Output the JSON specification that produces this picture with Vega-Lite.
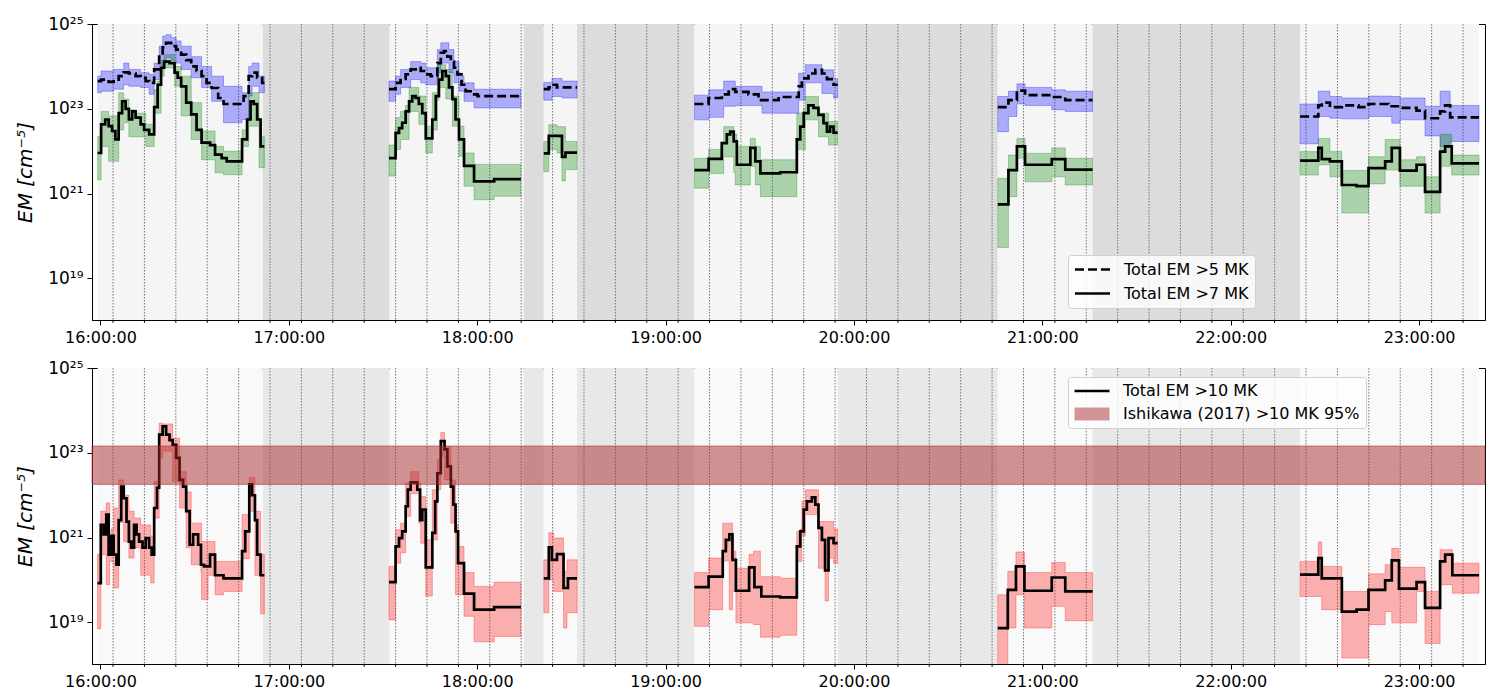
{
  "$schema": "https://vega.github.io/schema/vega-lite/v6.json",
  "background": "white",
  "autosize": {"type": "pad"},
  "padding": {"left": 15, "top": 14, "right": 5, "bottom": 5},
  "spacing": 12,
  "config": {
    "font": "DejaVu Sans",
    "view": {"stroke": "black", "strokeWidth": 1},
    "axis": {"domainColor": "black", "tickColor": "black", "labelColor": "black", "titleColor": "black", "labelFontSize": 16, "grid": false, "tickWidth": 1, "labelPadding": 4},
    "legend": {"labelLimit": 400}
  },
  "resolve": {"scale": {"fill": "independent", "strokeDash": "independent", "color": "independent", "shape": "independent"}},
  "datasets": {
    "shade": [
      {"start": 959.1, "end": 1011.7, "kind": "obs"},
      {"start": 1011.7, "end": 1052.1, "kind": "gap"},
      {"start": 1052.1, "end": 1094.8, "kind": "obs"},
      {"start": 1094.8, "end": 1101.2, "kind": "gap"},
      {"start": 1101.2, "end": 1111.8, "kind": "obs"},
      {"start": 1111.8, "end": 1149.2, "kind": "gap"},
      {"start": 1149.2, "end": 1194.8, "kind": "obs"},
      {"start": 1194.8, "end": 1245.8, "kind": "gap"},
      {"start": 1245.8, "end": 1276.0, "kind": "obs"},
      {"start": 1276.0, "end": 1342.1, "kind": "gap"},
      {"start": 1342.1, "end": 1399.1, "kind": "obs"}
    ],
    "grid": [
      {"t": 964}, {"t": 974}, {"t": 984}, {"t": 994}, {"t": 1004}, {"t": 1014}, {"t": 1024}, {"t": 1034}, {"t": 1044}, {"t": 1054}, {"t": 1064},
      {"t": 1074}, {"t": 1084}, {"t": 1094}, {"t": 1104}, {"t": 1114}, {"t": 1124}, {"t": 1134}, {"t": 1144}, {"t": 1154}, {"t": 1164}, {"t": 1174},
      {"t": 1184}, {"t": 1194}, {"t": 1204}, {"t": 1214}, {"t": 1224}, {"t": 1234}, {"t": 1244}, {"t": 1254}, {"t": 1264}, {"t": 1274}, {"t": 1284},
      {"t": 1294}, {"t": 1304}, {"t": 1314}, {"t": 1324}, {"t": 1334}, {"t": 1344}, {"t": 1354}, {"t": 1364}, {"t": 1374}, {"t": 1384}, {"t": 1394}
    ],
    "ishikawa": [{"lo": 1.8e22, "hi": 1.45e23}],
    "legend10": [{"s": "Total EM >10 MK"}, {"s": "Ishikawa (2017) >10 MK 95%"}],
    "top": [
      {"seg":1,"t":959.1,"em5":4.5e23,"lo5":2.4e23,"hi5":5.9e23,"em7":9.1e21,"lo7":2.1e21,"hi7":2.2e22},
      {"seg":1,"t":960.2,"em5":4.9e23,"lo5":2.6e23,"hi5":7.8e23,"em7":4.3e22,"lo7":1.3e22,"hi7":8.7e22},
      {"seg":1,"t":961.5,"em5":4.9e23,"lo5":2.6e23,"hi5":7.8e23,"em7":5.6e22,"lo7":1.3e22,"hi7":8.7e22},
      {"seg":1,"t":962.6,"em5":4.3e23,"lo5":2.6e23,"hi5":7.8e23,"em7":3.9e22,"lo7":5.8e21,"hi7":6.8e22},
      {"seg":1,"t":963.7,"em5":4.3e23,"lo5":2.6e23,"hi5":7.8e23,"em7":3.0e22,"lo7":5.8e21,"hi7":6.8e22},
      {"seg":1,"t":964.2,"em5":4.9e23,"lo5":2.9e23,"hi5":8.5e23,"em7":3.0e22,"lo7":5.8e21,"hi7":6.8e22},
      {"seg":1,"t":964.75,"em5":4.9e23,"lo5":2.9e23,"hi5":8.5e23,"em7":1.9e22,"lo7":5.8e21,"hi7":6.8e22},
      {"seg":1,"t":965.8,"em5":5.9e23,"lo5":2.9e23,"hi5":8.5e23,"em7":7.9e22,"lo7":3.2e22,"hi7":2.4e23},
      {"seg":1,"t":966.9,"em5":5.9e23,"lo5":2.9e23,"hi5":8.5e23,"em7":1.5e23,"lo7":3.2e22,"hi7":2.4e23},
      {"seg":1,"t":967.4,"em5":7.2e23,"lo5":3.7e23,"hi5":1.2e24,"em7":1.5e23,"lo7":4.7e22,"hi7":1.7e23},
      {"seg":1,"t":968.0,"em5":7.2e23,"lo5":3.7e23,"hi5":1.2e24,"em7":1.0e23,"lo7":4.7e22,"hi7":1.7e23},
      {"seg":1,"t":969.05,"em5":6.8e23,"lo5":3.4e23,"hi5":8.5e23,"em7":5.6e22,"lo7":2.2e22,"hi7":9.5e22},
      {"seg":1,"t":970.1,"em5":6.8e23,"lo5":3.4e23,"hi5":8.5e23,"em7":8.7e22,"lo7":2.2e22,"hi7":9.5e22},
      {"seg":1,"t":971.2,"em5":5.9e23,"lo5":3.4e23,"hi5":8.5e23,"em7":6.2e22,"lo7":2.2e22,"hi7":7.9e22},
      {"seg":1,"t":972.8,"em5":5.4e23,"lo5":3.2e23,"hi5":7.1e23,"em7":4.3e22,"lo7":2.2e22,"hi7":7.9e22},
      {"seg":1,"t":973.9,"em5":5.4e23,"lo5":3.2e23,"hi5":7.1e23,"em7":3.2e22,"lo7":2.2e22,"hi7":7.9e22},
      {"seg":1,"t":974.4,"em5":4.5e23,"lo5":3.2e23,"hi5":7.1e23,"em7":3.2e22,"lo7":1.3e22,"hi7":4.3e22},
      {"seg":1,"t":975.5,"em5":4.1e23,"lo5":2.2e23,"hi5":6.5e23,"em7":2.5e22,"lo7":1.3e22,"hi7":4.3e22},
      {"seg":1,"t":977.1,"em5":8.5e23,"lo5":4.9e23,"hi5":1.2e24,"em7":1.1e23,"lo7":7.9e22,"hi7":2.8e23},
      {"seg":1,"t":978.2,"em5":8.5e23,"lo5":4.9e23,"hi5":1.2e24,"em7":3.7e23,"lo7":7.9e22,"hi7":4.5e23},
      {"seg":1,"t":978.7,"em5":1.7e24,"lo5":8.5e23,"hi5":3.0e24,"em7":3.7e23,"lo7":7.9e22,"hi7":4.5e23},
      {"seg":1,"t":979.3,"em5":1.7e24,"lo5":8.5e23,"hi5":3.0e24,"em7":9.3e23,"lo7":5.9e23,"hi7":1.4e24},
      {"seg":1,"t":979.8,"em5":2.8e24,"lo5":1.2e24,"hi5":5.2e24,"em7":9.3e23,"lo7":5.9e23,"hi7":1.4e24},
      {"seg":1,"t":980.3,"em5":2.8e24,"lo5":1.2e24,"hi5":5.2e24,"em7":1.3e24,"lo7":9.3e23,"hi7":1.9e24},
      {"seg":1,"t":980.9,"em5":3.6e24,"lo5":1.6e24,"hi5":5.6e24,"em7":1.3e24,"lo7":9.3e23,"hi7":1.9e24},
      {"seg":1,"t":982.0,"em5":3.6e24,"lo5":1.6e24,"hi5":5.6e24,"em7":1.2e24,"lo7":9.3e23,"hi7":1.9e24},
      {"seg":1,"t":982.5,"em5":3.0e24,"lo5":1.4e24,"hi5":4.8e24,"em7":1.2e24,"lo7":9.3e23,"hi7":1.9e24},
      {"seg":1,"t":983.6,"em5":3.0e24,"lo5":1.4e24,"hi5":4.8e24,"em7":7.1e23,"lo7":3.4e23,"hi7":1.0e24},
      {"seg":1,"t":984.1,"em5":2.5e24,"lo5":1.2e24,"hi5":4.0e24,"em7":7.1e23,"lo7":3.4e23,"hi7":1.0e24},
      {"seg":1,"t":984.6,"em5":2.5e24,"lo5":1.2e24,"hi5":4.0e24,"em7":5.4e23,"lo7":3.4e23,"hi7":1.0e24},
      {"seg":1,"t":985.7,"em5":1.9e24,"lo5":8.5e23,"hi5":3.0e24,"em7":3.4e23,"lo7":6.8e22,"hi7":5.9e23},
      {"seg":1,"t":987.3,"em5":1.4e24,"lo5":8.5e23,"hi5":3.0e24,"em7":1.4e23,"lo7":6.8e22,"hi7":5.9e23},
      {"seg":1,"t":988.9,"em5":1.0e24,"lo5":5.4e23,"hi5":1.7e24,"em7":7.4e22,"lo7":1.9e22,"hi7":1.4e23},
      {"seg":1,"t":990.6,"em5":7.8e23,"lo5":5.4e23,"hi5":1.7e24,"em7":3.2e22,"lo7":1.9e22,"hi7":1.4e23},
      {"seg":1,"t":992.2,"em5":5.9e23,"lo5":3.2e23,"hi5":1.0e24,"em7":1.6e22,"lo7":6.3e21,"hi7":3.0e22},
      {"seg":1,"t":993.8,"em5":4.1e23,"lo5":3.2e23,"hi5":1.0e24,"em7":1.6e22,"lo7":6.3e21,"hi7":3.0e22},
      {"seg":1,"t":994.9,"em5":4.1e23,"lo5":3.2e23,"hi5":1.0e24,"em7":1.4e22,"lo7":6.3e21,"hi7":3.0e22},
      {"seg":1,"t":995.4,"em5":3.1e23,"lo5":1.5e23,"hi5":5.9e23,"em7":1.4e22,"lo7":6.3e21,"hi7":3.0e22},
      {"seg":1,"t":996.5,"em5":3.1e23,"lo5":1.5e23,"hi5":5.9e23,"em7":8.3e21,"lo7":3.1e21,"hi7":1.3e22},
      {"seg":1,"t":997.5,"em5":1.8e23,"lo5":1.5e23,"hi5":5.9e23,"em7":8.3e21,"lo7":3.1e21,"hi7":1.3e22},
      {"seg":1,"t":998.6,"em5":1.8e23,"lo5":1.5e23,"hi5":5.9e23,"em7":6.9e21,"lo7":3.1e21,"hi7":1.3e22},
      {"seg":1,"t":999.2,"em5":1.3e23,"lo5":4.7e22,"hi5":3.4e23,"em7":6.9e21,"lo7":2.8e21,"hi7":1.0e22},
      {"seg":1,"t":1000.2,"em5":1.3e23,"lo5":4.7e22,"hi5":3.4e23,"em7":5.8e21,"lo7":2.8e21,"hi7":1.0e22},
      {"seg":1,"t":1005.1,"em5":1.3e23,"lo5":5.6e22,"hi5":2.4e23,"em7":1.9e22,"lo7":1.3e22,"hi7":3.2e22},
      {"seg":1,"t":1005.6,"em5":2.0e23,"lo5":5.6e22,"hi5":2.4e23,"em7":1.9e22,"lo7":1.3e22,"hi7":3.2e22},
      {"seg":1,"t":1006.7,"em5":2.0e23,"lo5":5.6e22,"hi5":2.4e23,"em7":5.6e22,"lo7":1.3e22,"hi7":6.0e22},
      {"seg":1,"t":1007.2,"em5":5.9e23,"lo5":2.0e23,"hi5":1.0e24,"em7":5.6e22,"lo7":3.9e22,"hi7":2.4e23},
      {"seg":1,"t":1007.8,"em5":5.9e23,"lo5":2.0e23,"hi5":1.0e24,"em7":1.5e23,"lo7":3.9e22,"hi7":2.4e23},
      {"seg":1,"t":1008.3,"em5":7.1e23,"lo5":3.4e23,"hi5":1.2e24,"em7":1.5e23,"lo7":3.9e22,"hi7":2.4e23},
      {"seg":1,"t":1008.8,"em5":7.1e23,"lo5":3.4e23,"hi5":1.2e24,"em7":1.3e23,"lo7":3.9e22,"hi7":2.4e23},
      {"seg":1,"t":1009.9,"em5":5.4e23,"lo5":3.4e23,"hi5":1.2e24,"em7":5.6e22,"lo7":3.9e22,"hi7":2.4e23},
      {"seg":1,"t":1010.5,"em5":5.4e23,"lo5":2.4e23,"hi5":5.9e23,"em7":5.6e22,"lo7":4.1e21,"hi7":6.0e22},
      {"seg":1,"t":1011.0,"em5":5.4e23,"lo5":2.4e23,"hi5":5.9e23,"em7":1.3e22,"lo7":4.1e21,"hi7":2.2e22},
      {"seg":1,"t":1011.5,"em5":4.1e23,"lo5":2.4e23,"hi5":5.9e23,"em7":1.3e22,"lo7":4.1e21,"hi7":2.2e22},
      {"seg":1,"t":1012.2,"em5":4.1e23,"lo5":2.4e23,"hi5":5.9e23,"em7":1.3e22,"lo7":4.1e21,"hi7":2.2e22},
      {"seg":2,"t":1051.9,"em5":2.9e23,"lo5":1.5e23,"hi5":4.5e23,"em7":6.9e21,"lo7":2.6e21,"hi7":1.4e22},
      {"seg":2,"t":1054.0,"em5":4.1e23,"lo5":2.2e23,"hi5":5.9e23,"em7":2.7e22,"lo7":1.1e22,"hi7":6.2e22},
      {"seg":2,"t":1055.1,"em5":4.1e23,"lo5":2.2e23,"hi5":5.9e23,"em7":3.5e22,"lo7":1.1e22,"hi7":6.2e22},
      {"seg":2,"t":1055.6,"em5":5.1e23,"lo5":3.2e23,"hi5":8.5e23,"em7":3.5e22,"lo7":1.9e22,"hi7":8.7e22},
      {"seg":2,"t":1056.1,"em5":5.1e23,"lo5":3.2e23,"hi5":8.5e23,"em7":4.7e22,"lo7":1.9e22,"hi7":8.7e22},
      {"seg":2,"t":1057.2,"em5":6.5e23,"lo5":3.2e23,"hi5":8.5e23,"em7":8.7e22,"lo7":1.9e22,"hi7":1.2e23},
      {"seg":2,"t":1058.3,"em5":6.5e23,"lo5":3.2e23,"hi5":8.5e23,"em7":1.5e23,"lo7":8.7e22,"hi7":3.2e23},
      {"seg":2,"t":1058.8,"em5":8.5e23,"lo5":4.9e23,"hi5":1.3e24,"em7":1.5e23,"lo7":8.7e22,"hi7":3.2e23},
      {"seg":2,"t":1059.3,"em5":8.5e23,"lo5":4.9e23,"hi5":1.3e24,"em7":2.0e23,"lo7":8.7e22,"hi7":3.2e23},
      {"seg":2,"t":1060.4,"em5":9.3e23,"lo5":4.9e23,"hi5":1.3e24,"em7":1.8e23,"lo7":8.7e22,"hi7":3.2e23},
      {"seg":2,"t":1061.4,"em5":9.3e23,"lo5":4.9e23,"hi5":1.3e24,"em7":1.3e23,"lo7":4.3e22,"hi7":2.0e23},
      {"seg":2,"t":1062.0,"em5":7.8e23,"lo5":4.1e23,"hi5":1.2e24,"em7":1.3e23,"lo7":4.3e22,"hi7":2.0e23},
      {"seg":2,"t":1062.5,"em5":7.8e23,"lo5":4.1e23,"hi5":1.2e24,"em7":7.9e22,"lo7":4.3e22,"hi7":2.0e23},
      {"seg":2,"t":1063.6,"em5":6.5e23,"lo5":3.7e23,"hi5":9.3e23,"em7":2.0e22,"lo7":9.1e21,"hi7":3.9e22},
      {"seg":2,"t":1065.2,"em5":5.9e23,"lo5":3.7e23,"hi5":9.3e23,"em7":2.0e22,"lo7":9.1e21,"hi7":3.9e22},
      {"seg":2,"t":1065.7,"em5":5.9e23,"lo5":3.7e23,"hi5":9.3e23,"em7":5.6e22,"lo7":3.2e22,"hi7":2.4e23},
      {"seg":2,"t":1066.8,"em5":5.9e23,"lo5":3.7e23,"hi5":9.3e23,"em7":2.0e23,"lo7":3.2e22,"hi7":2.4e23},
      {"seg":2,"t":1067.3,"em5":1.2e24,"lo5":7.1e23,"hi5":2.5e24,"em7":2.0e23,"lo7":1.6e23,"hi7":1.1e24},
      {"seg":2,"t":1067.8,"em5":1.2e24,"lo5":7.1e23,"hi5":2.5e24,"em7":4.9e23,"lo7":3.2e23,"hi7":1.1e24},
      {"seg":2,"t":1068.4,"em5":2.1e24,"lo5":1.2e24,"hi5":3.6e24,"em7":4.9e23,"lo7":3.2e23,"hi7":1.1e24},
      {"seg":2,"t":1068.9,"em5":2.1e24,"lo5":1.2e24,"hi5":3.6e24,"em7":7.8e23,"lo7":3.2e23,"hi7":1.1e24},
      {"seg":2,"t":1069.4,"em5":2.3e24,"lo5":1.2e24,"hi5":3.6e24,"em7":7.8e23,"lo7":3.2e23,"hi7":1.1e24},
      {"seg":2,"t":1070.0,"em5":2.3e24,"lo5":1.2e24,"hi5":3.6e24,"em7":5.9e23,"lo7":1.7e23,"hi7":8.5e23},
      {"seg":2,"t":1070.5,"em5":1.7e24,"lo5":1.2e24,"hi5":3.6e24,"em7":5.9e23,"lo7":1.7e23,"hi7":8.5e23},
      {"seg":2,"t":1071.0,"em5":1.7e24,"lo5":7.1e23,"hi5":2.5e24,"em7":3.2e23,"lo7":1.7e23,"hi7":8.5e23},
      {"seg":2,"t":1071.6,"em5":1.3e24,"lo5":7.1e23,"hi5":2.5e24,"em7":3.2e23,"lo7":1.7e23,"hi7":8.5e23},
      {"seg":2,"t":1072.1,"em5":1.3e24,"lo5":7.1e23,"hi5":2.5e24,"em7":1.7e23,"lo7":3.9e22,"hi7":2.0e23},
      {"seg":2,"t":1072.6,"em5":9.3e23,"lo5":4.1e23,"hi5":1.3e24,"em7":1.7e23,"lo7":3.9e22,"hi7":2.0e23},
      {"seg":2,"t":1073.1,"em5":9.3e23,"lo5":4.1e23,"hi5":1.3e24,"em7":5.6e22,"lo7":3.9e22,"hi7":2.0e23},
      {"seg":2,"t":1073.7,"em5":6.5e23,"lo5":4.1e23,"hi5":1.3e24,"em7":5.6e22,"lo7":3.9e22,"hi7":2.0e23},
      {"seg":2,"t":1074.2,"em5":6.5e23,"lo5":2.6e23,"hi5":7.0e23,"em7":1.9e22,"lo7":7.6e21,"hi7":3.9e22},
      {"seg":2,"t":1075.0,"em5":3.7e23,"lo5":2.6e23,"hi5":5.9e23,"em7":1.9e22,"lo7":7.6e21,"hi7":3.9e22},
      {"seg":2,"t":1075.8,"em5":3.7e23,"lo5":1.5e23,"hi5":4.1e23,"em7":4.5e21,"lo7":1.5e21,"hi7":9.1e21},
      {"seg":2,"t":1076.3,"em5":2.6e23,"lo5":1.5e23,"hi5":4.1e23,"em7":4.5e21,"lo7":1.5e21,"hi7":9.1e21},
      {"seg":2,"t":1078.5,"em5":2.2e23,"lo5":1.5e23,"hi5":4.1e23,"em7":4.5e21,"lo7":1.5e21,"hi7":9.1e21},
      {"seg":2,"t":1079.0,"em5":2.2e23,"lo5":1.05e23,"hi5":2.9e23,"em7":1.95e21,"lo7":7.2e20,"hi7":4.9e21},
      {"seg":2,"t":1080.1,"em5":2.0e23,"lo5":1.05e23,"hi5":2.9e23,"em7":1.95e21,"lo7":7.2e20,"hi7":4.9e21},
      {"seg":2,"t":1085.4,"em5":2.0e23,"lo5":1.05e23,"hi5":2.9e23,"em7":2.2e21,"lo7":8.7e20,"hi7":4.9e21},
      {"seg":2,"t":1093.9,"em5":2.0e23,"lo5":1.05e23,"hi5":2.9e23,"em7":2.2e21,"lo7":8.7e20,"hi7":4.9e21},
      {"seg":3,"t":1101.2,"em5":2.9e23,"lo5":1.6e23,"hi5":4.2e23,"em7":8.9e21,"lo7":3.3e21,"hi7":1.7e22},
      {"seg":3,"t":1102.8,"em5":3.2e23,"lo5":1.6e23,"hi5":4.2e23,"em7":2.3e22,"lo7":1.1e22,"hi7":4.2e22},
      {"seg":3,"t":1103.8,"em5":3.7e23,"lo5":1.95e23,"hi5":5.2e23,"em7":2.3e22,"lo7":1.1e22,"hi7":4.2e22},
      {"seg":3,"t":1105.4,"em5":3.2e23,"lo5":1.95e23,"hi5":5.2e23,"em7":2.3e22,"lo7":9.1e21,"hi7":3.8e22},
      {"seg":3,"t":1107.0,"em5":3.2e23,"lo5":1.8e23,"hi5":4.5e23,"em7":7.4e21,"lo7":2.0e21,"hi7":3.8e22},
      {"seg":3,"t":1108.1,"em5":3.2e23,"lo5":1.8e23,"hi5":4.5e23,"em7":9.3e21,"lo7":3.7e21,"hi7":1.7e22},
      {"seg":3,"t":1111.8,"em5":3.2e23,"lo5":1.8e23,"hi5":4.5e23,"em7":9.3e21,"lo7":3.7e21,"hi7":1.7e22},
      {"seg":4,"t":1149.2,"em5":1.3e23,"lo5":5.5e22,"hi5":2.1e23,"em7":3.6e21,"lo7":1.35e21,"hi7":6.8e21},
      {"seg":4,"t":1153.7,"em5":1.8e23,"lo5":6.3e22,"hi5":2.8e23,"em7":6.6e21,"lo7":3.0e21,"hi7":1.1e22},
      {"seg":4,"t":1157.9,"em5":2.2e23,"lo5":6.3e22,"hi5":2.8e23,"em7":1.55e22,"lo7":3.0e21,"hi7":1.6e22},
      {"seg":4,"t":1158.5,"em5":2.2e23,"lo5":1.15e23,"hi5":4.5e23,"em7":1.55e22,"lo7":7.4e21,"hi7":3.8e22},
      {"seg":4,"t":1159.5,"em5":2.2e23,"lo5":1.15e23,"hi5":4.5e23,"em7":2.5e22,"lo7":7.4e21,"hi7":3.8e22},
      {"seg":4,"t":1160.1,"em5":2.9e23,"lo5":1.15e23,"hi5":4.5e23,"em7":2.5e22,"lo7":7.4e21,"hi7":3.8e22},
      {"seg":4,"t":1160.6,"em5":2.9e23,"lo5":1.15e23,"hi5":4.5e23,"em7":2.9e22,"lo7":7.4e21,"hi7":3.8e22},
      {"seg":4,"t":1161.7,"em5":2.9e23,"lo5":1.15e23,"hi5":4.5e23,"em7":1.7e22,"lo7":3.2e21,"hi7":2.5e22},
      {"seg":4,"t":1162.2,"em5":2.5e23,"lo5":1.2e23,"hi5":3.4e23,"em7":1.7e22,"lo7":1.6e21,"hi7":2.5e22},
      {"seg":4,"t":1162.7,"em5":2.5e23,"lo5":1.2e23,"hi5":3.4e23,"em7":4.8e21,"lo7":1.6e21,"hi7":1.3e22},
      {"seg":4,"t":1166.4,"em5":2.2e23,"lo5":1.2e23,"hi5":3.4e23,"em7":4.8e21,"lo7":1.6e21,"hi7":1.3e22},
      {"seg":4,"t":1167.0,"em5":2.2e23,"lo5":1.2e23,"hi5":3.4e23,"em7":1.2e22,"lo7":4.4e21,"hi7":2.0e22},
      {"seg":4,"t":1168.6,"em5":2.2e23,"lo5":1.2e23,"hi5":3.4e23,"em7":5.8e21,"lo7":1.6e21,"hi7":1.3e22},
      {"seg":4,"t":1169.6,"em5":1.6e23,"lo5":1.2e23,"hi5":3.4e23,"em7":5.8e21,"lo7":1.6e21,"hi7":1.3e22},
      {"seg":4,"t":1170.2,"em5":1.6e23,"lo5":1.2e23,"hi5":3.4e23,"em7":3.0e21,"lo7":8.5e20,"hi7":6.3e21},
      {"seg":4,"t":1170.7,"em5":1.6e23,"lo5":7.9e22,"hi5":2.5e23,"em7":3.0e21,"lo7":8.5e20,"hi7":6.3e21},
      {"seg":4,"t":1176.0,"em5":1.9e23,"lo5":7.9e22,"hi5":2.5e23,"em7":3.0e21,"lo7":8.5e20,"hi7":6.3e21},
      {"seg":4,"t":1176.5,"em5":1.9e23,"lo5":7.9e22,"hi5":2.5e23,"em7":3.2e21,"lo7":8.5e20,"hi7":6.3e21},
      {"seg":4,"t":1181.8,"em5":1.9e23,"lo5":7.9e22,"hi5":2.5e23,"em7":1.9e22,"lo7":1.1e22,"hi7":7.9e22},
      {"seg":4,"t":1182.4,"em5":3.4e23,"lo5":1.6e23,"hi5":6.9e23,"em7":1.9e22,"lo7":1.1e22,"hi7":7.9e22},
      {"seg":4,"t":1182.9,"em5":3.4e23,"lo5":1.6e23,"hi5":6.9e23,"em7":3.8e22,"lo7":1.1e22,"hi7":7.9e22},
      {"seg":4,"t":1183.4,"em5":5.2e23,"lo5":1.6e23,"hi5":6.9e23,"em7":3.8e22,"lo7":1.1e22,"hi7":7.9e22},
      {"seg":4,"t":1184.0,"em5":5.2e23,"lo5":1.6e23,"hi5":6.9e23,"em7":7.9e22,"lo7":1.1e22,"hi7":1.0e23},
      {"seg":4,"t":1184.5,"em5":5.2e23,"lo5":4.1e23,"hi5":1.1e24,"em7":7.9e22,"lo7":5.5e22,"hi7":1.95e23},
      {"seg":4,"t":1185.5,"em5":6.8e23,"lo5":4.1e23,"hi5":1.1e24,"em7":1.2e23,"lo7":5.5e22,"hi7":1.95e23},
      {"seg":4,"t":1187.1,"em5":6.8e23,"lo5":4.1e23,"hi5":1.1e24,"em7":1.05e23,"lo7":5.5e22,"hi7":1.95e23},
      {"seg":4,"t":1187.7,"em5":8.3e23,"lo5":4.1e23,"hi5":1.1e24,"em7":1.05e23,"lo7":5.5e22,"hi7":1.95e23},
      {"seg":4,"t":1188.7,"em5":8.3e23,"lo5":4.1e23,"hi5":1.1e24,"em7":7.2e22,"lo7":2.2e22,"hi7":7.9e22},
      {"seg":4,"t":1189.8,"em5":6.8e23,"lo5":2.3e23,"hi5":8.3e23,"em7":7.2e22,"lo7":2.2e22,"hi7":7.9e22},
      {"seg":4,"t":1190.3,"em5":6.8e23,"lo5":2.3e23,"hi5":8.3e23,"em7":4.6e22,"lo7":2.2e22,"hi7":7.9e22},
      {"seg":4,"t":1191.4,"em5":5.0e23,"lo5":2.3e23,"hi5":8.3e23,"em7":2.9e22,"lo7":2.2e22,"hi7":7.9e22},
      {"seg":4,"t":1191.9,"em5":5.0e23,"lo5":2.3e23,"hi5":8.3e23,"em7":2.9e22,"lo7":1.4e22,"hi7":5.0e22},
      {"seg":4,"t":1192.4,"em5":5.0e23,"lo5":2.3e23,"hi5":8.3e23,"em7":3.8e22,"lo7":1.4e22,"hi7":5.0e22},
      {"seg":4,"t":1193.5,"em5":3.7e23,"lo5":1.8e23,"hi5":5.2e23,"em7":2.75e22,"lo7":1.4e22,"hi7":5.0e22},
      {"seg":4,"t":1194.8,"em5":3.7e23,"lo5":1.8e23,"hi5":5.2e23,"em7":2.75e22,"lo7":1.4e22,"hi7":5.0e22},
      {"seg":5,"t":1245.8,"em5":1.1e23,"lo5":2.9e22,"hi5":1.95e23,"em7":5.6e20,"lo7":5.4e19,"hi7":2.3e21},
      {"seg":5,"t":1249.2,"em5":1.6e23,"lo5":6.6e22,"hi5":2.6e23,"em7":3.6e21,"lo7":8.5e20,"hi7":8.1e21},
      {"seg":5,"t":1251.9,"em5":2.7e23,"lo5":1.3e23,"hi5":3.9e23,"em7":1.3e22,"lo7":6.8e21,"hi7":2.0e22},
      {"seg":5,"t":1254.5,"em5":2.1e23,"lo5":1.2e23,"hi5":3.2e23,"em7":4.8e21,"lo7":1.9e21,"hi7":8.9e21},
      {"seg":5,"t":1263.0,"em5":1.9e23,"lo5":9.5e22,"hi5":2.8e23,"em7":6.5e21,"lo7":2.5e21,"hi7":1.2e22},
      {"seg":5,"t":1267.3,"em5":1.6e23,"lo5":8.7e22,"hi5":2.6e23,"em7":3.7e21,"lo7":1.6e21,"hi7":6.8e21},
      {"seg":5,"t":1276.0,"em5":1.6e23,"lo5":8.7e22,"hi5":2.6e23,"em7":3.7e21,"lo7":1.6e21,"hi7":6.8e21},
      {"seg":6,"t":1342.1,"em5":6.6e22,"lo5":1.5e22,"hi5":1.3e23,"em7":6.0e21,"lo7":2.75e21,"hi7":9.8e21},
      {"seg":6,"t":1347.9,"em5":1.2e23,"lo5":6.6e22,"hi5":2.6e23,"em7":1.2e22,"lo7":4.8e21,"hi7":2.0e22},
      {"seg":6,"t":1349.0,"em5":1.4e23,"lo5":6.6e22,"hi5":2.6e23,"em7":6.5e21,"lo7":4.8e21,"hi7":2.0e22},
      {"seg":6,"t":1351.6,"em5":1.1e23,"lo5":6.0e22,"hi5":1.95e23,"em7":5.8e21,"lo7":2.5e21,"hi7":9.8e21},
      {"seg":6,"t":1355.4,"em5":1.2e23,"lo5":5.8e22,"hi5":1.8e23,"em7":1.6e21,"lo7":3.5e20,"hi7":3.5e21},
      {"seg":6,"t":1360.1,"em5":1.2e23,"lo5":5.8e22,"hi5":1.8e23,"em7":1.5e21,"lo7":3.5e20,"hi7":3.5e21},
      {"seg":6,"t":1360.7,"em5":1.1e23,"lo5":5.8e22,"hi5":1.8e23,"em7":1.5e21,"lo7":3.5e20,"hi7":3.5e21},
      {"seg":6,"t":1363.9,"em5":1.3e23,"lo5":6.6e22,"hi5":2.0e23,"em7":4.0e21,"lo7":1.7e21,"hi7":7.4e21},
      {"seg":6,"t":1369.2,"em5":1.3e23,"lo5":6.6e22,"hi5":2.0e23,"em7":5.8e21,"lo7":3.6e21,"hi7":1.9e22},
      {"seg":6,"t":1370.2,"em5":1.15e23,"lo5":6.6e22,"hi5":2.0e23,"em7":5.8e21,"lo7":3.6e21,"hi7":1.9e22},
      {"seg":6,"t":1371.3,"em5":1.15e23,"lo5":4.6e22,"hi5":1.95e23,"em7":1.2e22,"lo7":3.6e21,"hi7":1.9e22},
      {"seg":6,"t":1373.9,"em5":1.05e23,"lo5":5.5e22,"hi5":1.8e23,"em7":3.5e21,"lo7":1.5e21,"hi7":6.3e21},
      {"seg":6,"t":1379.2,"em5":9.1e22,"lo5":5.5e22,"hi5":1.8e23,"em7":4.8e21,"lo7":1.5e21,"hi7":7.4e21},
      {"seg":6,"t":1381.9,"em5":6.0e22,"lo5":2.3e22,"hi5":1.15e23,"em7":1.1e21,"lo7":3.5e20,"hi7":2.5e21},
      {"seg":6,"t":1386.7,"em5":8.7e22,"lo5":1.3e22,"hi5":2.6e23,"em7":9.8e21,"lo7":4.4e21,"hi7":2.5e22},
      {"seg":6,"t":1388.3,"em5":1.2e23,"lo5":1.3e22,"hi5":2.6e23,"em7":1.3e22,"lo7":4.4e21,"hi7":2.5e22},
      {"seg":6,"t":1389.9,"em5":6.3e22,"lo5":1.7e22,"hi5":1.2e23,"em7":1.3e22,"lo7":4.4e21,"hi7":2.5e22},
      {"seg":6,"t":1390.4,"em5":6.3e22,"lo5":1.7e22,"hi5":1.2e23,"em7":5.2e21,"lo7":2.75e21,"hi7":8.1e21},
      {"seg":6,"t":1399.1,"em5":6.3e22,"lo5":1.7e22,"hi5":1.2e23,"em7":5.2e21,"lo7":2.75e21,"hi7":8.1e21}
    ],
    "bottom": [
      {"seg":1,"t":959.05,"em10":8.5e19,"lo10":7.1e18,"hi10":4.0e20},
      {"seg":1,"t":960.1,"em10":2.0e21,"lo10":4.0e20,"hi10":4.2e21},
      {"seg":1,"t":961.0,"em10":1.2e21,"lo10":4.0e20,"hi10":4.2e21},
      {"seg":1,"t":961.85,"em10":3.5e21,"lo10":7.8e19,"hi10":6.6e21},
      {"seg":1,"t":962.6,"em10":4.0e20,"lo10":7.8e19,"hi10":6.6e21},
      {"seg":1,"t":962.9,"em10":4.0e20,"lo10":2.75e20,"hi10":1.1e21},
      {"seg":1,"t":963.35,"em10":1.1e21,"lo10":2.75e20,"hi10":1.6e21},
      {"seg":1,"t":964.2,"em10":4.0e20,"lo10":6.5e19,"hi10":5.0e21},
      {"seg":1,"t":965.1,"em10":2.3e20,"lo10":6.5e19,"hi10":5.0e21},
      {"seg":1,"t":965.8,"em10":2.6e21,"lo10":2.3e21,"hi10":2.3e22},
      {"seg":1,"t":966.6,"em10":1.6e22,"lo10":2.3e21,"hi10":2.3e22},
      {"seg":1,"t":967.4,"em10":8.5e21,"lo10":8.1e20,"hi10":1.0e22},
      {"seg":1,"t":968.3,"em10":2.4e21,"lo10":8.1e20,"hi10":1.0e22},
      {"seg":1,"t":969.05,"em10":8.1e20,"lo10":3.3e20,"hi10":4.2e21},
      {"seg":1,"t":969.8,"em10":5.8e20,"lo10":3.3e20,"hi10":4.2e21},
      {"seg":1,"t":970.7,"em10":2.0e21,"lo10":5.8e20,"hi10":2.9e21},
      {"seg":1,"t":971.5,"em10":1.2e21,"lo10":5.8e20,"hi10":2.9e21},
      {"seg":1,"t":972.3,"em10":8.1e20,"lo10":5.8e20,"hi10":2.9e21},
      {"seg":1,"t":972.8,"em10":8.1e20,"lo10":1.3e20,"hi10":2.0e21},
      {"seg":1,"t":973.4,"em10":5.8e20,"lo10":1.3e20,"hi10":2.0e21},
      {"seg":1,"t":974.4,"em10":9.8e20,"lo10":1.3e20,"hi10":2.0e21},
      {"seg":1,"t":975.5,"em10":5.8e20,"lo10":1.3e20,"hi10":2.0e21},
      {"seg":1,"t":976.0,"em10":5.8e20,"lo10":8.5e19,"hi10":1.1e21},
      {"seg":1,"t":976.3,"em10":4.0e20,"lo10":8.5e19,"hi10":1.1e21},
      {"seg":1,"t":977.1,"em10":5.0e21,"lo10":2.9e21,"hi10":2.1e22},
      {"seg":1,"t":978.0,"em10":1.5e22,"lo10":2.9e21,"hi10":2.1e22},
      {"seg":1,"t":978.7,"em10":2.7e23,"lo10":7.6e22,"hi10":5.0e23},
      {"seg":1,"t":979.8,"em10":4.2e23,"lo10":1.1e23,"hi10":4.8e23},
      {"seg":1,"t":980.9,"em10":2.7e23,"lo10":1.1e23,"hi10":4.8e23},
      {"seg":1,"t":982.0,"em10":2.0e23,"lo10":1.1e23,"hi10":4.8e23},
      {"seg":1,"t":983.0,"em10":1.55e23,"lo10":2.1e22,"hi10":2.2e23},
      {"seg":1,"t":984.1,"em10":7.6e22,"lo10":2.1e22,"hi10":2.2e23},
      {"seg":1,"t":985.2,"em10":2.3e22,"lo10":5.0e21,"hi10":3.6e22},
      {"seg":1,"t":986.3,"em10":1.6e22,"lo10":5.0e21,"hi10":3.6e22},
      {"seg":1,"t":987.3,"em10":4.2e21,"lo10":5.8e20,"hi10":1.2e22},
      {"seg":1,"t":988.4,"em10":6.8e20,"lo10":5.8e20,"hi10":1.2e22},
      {"seg":1,"t":988.9,"em10":6.8e20,"lo10":2.3e20,"hi10":2.2e21},
      {"seg":1,"t":989.5,"em10":1.2e21,"lo10":2.3e20,"hi10":2.2e21},
      {"seg":1,"t":991.1,"em10":6.8e20,"lo10":2.3e20,"hi10":2.2e21},
      {"seg":1,"t":992.0,"em10":2.3e20,"lo10":1.5e20,"hi10":2.2e21},
      {"seg":1,"t":992.2,"em10":2.3e20,"lo10":3.5e19,"hi10":8.1e20},
      {"seg":1,"t":993.0,"em10":2.1e20,"lo10":3.5e19,"hi10":8.1e20},
      {"seg":1,"t":994.3,"em10":2.1e20,"lo10":1.3e20,"hi10":8.1e20},
      {"seg":1,"t":994.9,"em10":4.0e20,"lo10":1.3e20,"hi10":8.1e20},
      {"seg":1,"t":996.5,"em10":1.3e20,"lo10":4.5e19,"hi10":2.75e20},
      {"seg":1,"t":999.2,"em10":1.1e20,"lo10":5.4e19,"hi10":2.75e20},
      {"seg":1,"t":1005.1,"em10":4.8e20,"lo10":3.2e20,"hi10":3.5e21},
      {"seg":1,"t":1006.1,"em10":1.4e21,"lo10":3.2e20,"hi10":3.5e21},
      {"seg":1,"t":1007.4,"em10":1.8e22,"lo10":4.2e21,"hi10":2.6e22},
      {"seg":1,"t":1008.3,"em10":1.0e22,"lo10":4.2e21,"hi10":2.6e22},
      {"seg":1,"t":1009.2,"em10":2.6e21,"lo10":1.3e20,"hi10":4.2e21},
      {"seg":1,"t":1009.9,"em10":4.0e20,"lo10":1.3e20,"hi10":4.2e21},
      {"seg":1,"t":1011.0,"em10":1.3e20,"lo10":1.6e19,"hi10":4.0e20},
      {"seg":1,"t":1012.2,"em10":1.3e20,"lo10":1.6e19,"hi10":4.0e20},
      {"seg":2,"t":1051.9,"em10":8.9e19,"lo10":1.15e19,"hi10":2.1e20},
      {"seg":2,"t":1054.0,"em10":6.2e20,"lo10":2.5e20,"hi10":1.55e21},
      {"seg":2,"t":1055.1,"em10":9.8e20,"lo10":2.5e20,"hi10":1.55e21},
      {"seg":2,"t":1055.6,"em10":9.8e20,"lo10":4.4e20,"hi10":2.2e21},
      {"seg":2,"t":1056.1,"em10":1.4e21,"lo10":4.4e20,"hi10":2.2e21},
      {"seg":2,"t":1057.2,"em10":5.5e21,"lo10":3.2e21,"hi10":1.95e22},
      {"seg":2,"t":1057.9,"em10":1.35e22,"lo10":3.2e21,"hi10":1.95e22},
      {"seg":2,"t":1058.8,"em10":2.0e22,"lo10":1.1e22,"hi10":3.6e22},
      {"seg":2,"t":1060.9,"em10":1.35e22,"lo10":1.1e22,"hi10":3.6e22},
      {"seg":2,"t":1061.4,"em10":1.35e22,"lo10":2.2e21,"hi10":1.95e22},
      {"seg":2,"t":1061.8,"em10":2.6e21,"lo10":2.2e21,"hi10":1.95e22},
      {"seg":2,"t":1062.0,"em10":2.6e21,"lo10":7.4e20,"hi10":9.3e21},
      {"seg":2,"t":1062.5,"em10":4.6e21,"lo10":7.4e20,"hi10":9.3e21},
      {"seg":2,"t":1063.6,"em10":2.0e20,"lo10":4.2e19,"hi10":8.9e20},
      {"seg":2,"t":1065.7,"em10":1.3e21,"lo10":8.9e20,"hi10":1.35e22},
      {"seg":2,"t":1066.6,"em10":7.2e21,"lo10":8.9e20,"hi10":1.35e22},
      {"seg":2,"t":1067.3,"em10":3.3e22,"lo10":1.35e22,"hi10":6.9e22},
      {"seg":2,"t":1068.4,"em10":1.9e23,"lo10":8.3e22,"hi10":3.0e23},
      {"seg":2,"t":1069.6,"em10":1.2e23,"lo10":2.3e22,"hi10":1.4e23},
      {"seg":2,"t":1070.5,"em10":4.8e22,"lo10":2.3e22,"hi10":1.4e23},
      {"seg":2,"t":1071.6,"em10":1.6e22,"lo10":2.2e21,"hi10":2.3e22},
      {"seg":2,"t":1072.4,"em10":6.0e21,"lo10":2.2e21,"hi10":2.3e22},
      {"seg":2,"t":1073.1,"em10":1.4e21,"lo10":4.5e19,"hi10":2.0e21},
      {"seg":2,"t":1073.9,"em10":2.5e20,"lo10":4.5e19,"hi10":6.2e20},
      {"seg":2,"t":1075.8,"em10":4.8e19,"lo10":1.4e19,"hi10":1.5e20},
      {"seg":2,"t":1079.0,"em10":2.0e19,"lo10":3.5e18,"hi10":7.1e19},
      {"seg":2,"t":1085.4,"em10":2.3e19,"lo10":4.7e18,"hi10":8.9e19},
      {"seg":2,"t":1093.9,"em10":2.3e19,"lo10":4.7e18,"hi10":8.9e19},
      {"seg":3,"t":1101.2,"em10":1.1e20,"lo10":1.7e19,"hi10":3.0e20},
      {"seg":3,"t":1102.8,"em10":5.9e20,"lo10":1.0e20,"hi10":1.3e21},
      {"seg":3,"t":1103.8,"em10":3.0e20,"lo10":1.0e20,"hi10":1.3e21},
      {"seg":3,"t":1104.3,"em10":3.0e20,"lo10":5.4e19,"hi10":9.8e20},
      {"seg":3,"t":1105.4,"em10":4.1e20,"lo10":5.4e19,"hi10":9.8e20},
      {"seg":3,"t":1107.5,"em10":6.5e19,"lo10":7.4e18,"hi10":1.6e20},
      {"seg":3,"t":1108.6,"em10":6.5e19,"lo10":1.7e19,"hi10":3.0e20},
      {"seg":3,"t":1108.9,"em10":1.1e20,"lo10":1.7e19,"hi10":3.0e20},
      {"seg":3,"t":1111.8,"em10":1.1e20,"lo10":1.7e19,"hi10":3.0e20},
      {"seg":4,"t":1149.2,"em10":6.8e19,"lo10":8.1e18,"hi10":1.5e20},
      {"seg":4,"t":1153.7,"em10":1.2e20,"lo10":2.0e19,"hi10":3.3e20},
      {"seg":4,"t":1158.2,"em10":4.8e20,"lo10":2.8e20,"hi10":2.2e21},
      {"seg":4,"t":1159.2,"em10":8.9e20,"lo10":2.8e20,"hi10":2.2e21},
      {"seg":4,"t":1160.3,"em10":1.2e21,"lo10":2.0e19,"hi10":2.2e21},
      {"seg":4,"t":1161.3,"em10":3.0e20,"lo10":5.4e19,"hi10":4.8e20},
      {"seg":4,"t":1162.4,"em10":5.6e19,"lo10":9.8e18,"hi10":1.9e20},
      {"seg":4,"t":1166.6,"em10":2.0e20,"lo10":9.8e18,"hi10":4.0e20},
      {"seg":4,"t":1168.0,"em10":2.0e20,"lo10":8.9e18,"hi10":4.8e20},
      {"seg":4,"t":1168.3,"em10":6.8e19,"lo10":8.9e18,"hi10":4.8e20},
      {"seg":4,"t":1170.2,"em10":6.8e19,"lo10":4.5e18,"hi10":1.2e20},
      {"seg":4,"t":1170.5,"em10":4.1e19,"lo10":4.5e18,"hi10":1.2e20},
      {"seg":4,"t":1176.5,"em10":3.9e19,"lo10":5.0e18,"hi10":1.1e20},
      {"seg":4,"t":1181.8,"em10":6.2e20,"lo10":2.75e20,"hi10":1.4e21},
      {"seg":4,"t":1182.9,"em10":1.4e21,"lo10":2.75e20,"hi10":1.6e21},
      {"seg":4,"t":1183.4,"em10":1.4e21,"lo10":1.1e21,"hi10":7.2e21},
      {"seg":4,"t":1184.0,"em10":4.6e21,"lo10":1.1e21,"hi10":7.2e21},
      {"seg":4,"t":1184.5,"em10":4.6e21,"lo10":3.5e21,"hi10":1.35e22},
      {"seg":4,"t":1185.0,"em10":7.2e21,"lo10":3.5e21,"hi10":1.35e22},
      {"seg":4,"t":1186.6,"em10":8.9e21,"lo10":3.5e21,"hi10":1.35e22},
      {"seg":4,"t":1187.7,"em10":6.0e21,"lo10":3.5e21,"hi10":1.35e22},
      {"seg":4,"t":1188.7,"em10":1.7e21,"lo10":1.9e20,"hi10":2.4e21},
      {"seg":4,"t":1189.8,"em10":8.9e20,"lo10":1.9e20,"hi10":2.4e21},
      {"seg":4,"t":1190.8,"em10":1.7e20,"lo10":3.2e19,"hi10":2.4e21},
      {"seg":4,"t":1191.9,"em10":9.8e20,"lo10":3.3e20,"hi10":2.4e21},
      {"seg":4,"t":1193.5,"em10":7.4e20,"lo10":2.5e20,"hi10":1.6e21},
      {"seg":4,"t":1194.8,"em10":7.4e20,"lo10":2.5e20,"hi10":1.6e21},
      {"seg":5,"t":1245.8,"em10":7.4e18,"lo10":6.3e17,"hi10":4.5e19},
      {"seg":5,"t":1249.0,"em10":5.9e19,"lo10":7.4e18,"hi10":1.6e20},
      {"seg":5,"t":1251.6,"em10":2.1e20,"lo10":4.5e19,"hi10":4.6e20},
      {"seg":5,"t":1254.3,"em10":5.6e19,"lo10":7.4e18,"hi10":1.5e20},
      {"seg":5,"t":1263.0,"em10":1.15e20,"lo10":2.4e19,"hi10":2.6e20},
      {"seg":5,"t":1267.3,"em10":5.4e19,"lo10":1.1e19,"hi10":1.5e20},
      {"seg":5,"t":1276.0,"em10":5.4e19,"lo10":1.1e19,"hi10":1.5e20},
      {"seg":6,"t":1342.1,"em10":1.35e20,"lo10":4.1e19,"hi10":2.75e20},
      {"seg":6,"t":1347.9,"em10":3.3e20,"lo10":4.1e19,"hi10":7.9e20},
      {"seg":6,"t":1349.0,"em10":1.1e20,"lo10":2.0e19,"hi10":2.1e20},
      {"seg":6,"t":1355.4,"em10":1.8e19,"lo10":1.45e18,"hi10":5.4e19},
      {"seg":6,"t":1360.1,"em10":2.0e19,"lo10":1.45e18,"hi10":5.4e19},
      {"seg":6,"t":1363.9,"em10":5.9e19,"lo10":8.9e18,"hi10":1.4e20},
      {"seg":6,"t":1369.2,"em10":9.8e19,"lo10":1.8e19,"hi10":2.3e20},
      {"seg":6,"t":1371.3,"em10":2.9e20,"lo10":9.8e18,"hi10":5.6e20},
      {"seg":6,"t":1373.6,"em10":6.3e19,"lo10":9.8e18,"hi10":2.0e20},
      {"seg":6,"t":1379.2,"em10":8.9e19,"lo10":5.4e19,"hi10":2.0e20},
      {"seg":6,"t":1381.9,"em10":2.2e19,"lo10":3.2e18,"hi10":5.4e19},
      {"seg":6,"t":1386.7,"em10":2.75e20,"lo10":7.8e19,"hi10":5.2e20},
      {"seg":6,"t":1388.3,"em10":4.0e20,"lo10":7.8e19,"hi10":5.2e20},
      {"seg":6,"t":1390.6,"em10":1.3e20,"lo10":4.9e19,"hi10":2.5e20},
      {"seg":6,"t":1399.1,"em10":1.3e20,"lo10":4.9e19,"hi10":2.5e20}
    ]
  },
  "vconcat": [
    {
      "width": 1393,
      "height": 296,
      "layer": [
        {
          "data": {"name": "shade"},
          "mark": {"type": "rect", "strokeWidth": 0},
          "encoding": {
            "x": {"field": "start", "type": "quantitative", "title": null,
              "scale": {"domain": [957.3, 1401], "nice": false, "zero": false},
              "axis": {"values": [960, 1020, 1080, 1140, 1200, 1260, 1320, 1380], "tickSize": 5, "labelOverlap": false, "labelFlush": false,
                "labelExpr": "format(floor(datum.value / 60), '02d') + ':00:00'"}},
            "x2": {"field": "end"},
            "fill": {"field": "kind", "type": "nominal", "legend": null,
              "scale": {"domain": ["obs", "gap"], "range": ["#f5f5f5", "#dcdcdc"]}}
          }
        },
        {
          "data": {"name": "grid"},
          "mark": {"type": "rule", "stroke": "#555555", "strokeWidth": 0.8, "strokeDash": [1.5, 1.5]},
          "encoding": {
            "x": {"field": "t", "type": "quantitative", "title": null, "scale": {"domain": [957.3, 1401], "nice": false, "zero": false}}
          }
        },
        {
          "data": {"name": "grid"},
          "mark": {"type": "rule", "stroke": "black", "strokeWidth": 1},
          "encoding": {
            "x": {"field": "t", "type": "quantitative", "title": null, "scale": {"domain": [957.3, 1401], "nice": false, "zero": false}},
            "y": {"datum": 1.05e18, "type": "quantitative", "title": "EM [cm⁻⁵]", "scale": {"type": "log", "domain": [1.05e18, 1e25], "nice": false}},
            "y2": {"datum": 9.0e17}
          }
        },
        {
          "data": {"name": "top"},
          "mark": {"type": "area", "interpolate": "step-after", "fill": "blue", "fillOpacity": 0.3, "stroke": "blue", "strokeOpacity": 0.3, "strokeWidth": 1, "clip": true},
          "encoding": {
            "x": {"field": "t", "type": "quantitative", "title": null, "scale": {"domain": [957.3, 1401], "nice": false, "zero": false}},
            "y": {"field": "lo5", "type": "quantitative", "title": "EM [cm⁻⁵]",
              "scale": {"type": "log", "domain": [1.05e18, 1e25], "nice": false},
              "axis": {"values": [1e19, 1e21, 1e23, 1e25], "tickSize": 5, "labelFontSize": 17, "titleFontSize": 20, "titleFontStyle": "italic", "titleFontWeight": "normal", "titlePadding": 12,
                "labelExpr": "'10' + (round(log(datum.value) / LN10) == 19 ? '¹⁹' : round(log(datum.value) / LN10) == 21 ? '²¹' : round(log(datum.value) / LN10) == 23 ? '²³' : '²⁵')"}},
            "y2": {"field": "hi5"},
            "detail": {"field": "seg", "type": "nominal"}
          }
        },
        {
          "data": {"name": "top"},
          "mark": {"type": "area", "interpolate": "step-after", "fill": "green", "fillOpacity": 0.3, "stroke": "green", "strokeOpacity": 0.3, "strokeWidth": 1, "clip": true},
          "encoding": {
            "x": {"field": "t", "type": "quantitative", "title": null, "scale": {"domain": [957.3, 1401], "nice": false, "zero": false}},
            "y": {"field": "lo7", "type": "quantitative", "title": "EM [cm⁻⁵]", "scale": {"type": "log", "domain": [1.05e18, 1e25], "nice": false}},
            "y2": {"field": "hi7"},
            "detail": {"field": "seg", "type": "nominal"}
          }
        },
        {
          "data": {"name": "top"},
          "transform": [{"fold": ["em5", "em7"], "as": ["series", "em"]}],
          "mark": {"type": "line", "interpolate": "step-after", "color": "black", "strokeWidth": 2.7, "clip": true},
          "encoding": {
            "x": {"field": "t", "type": "quantitative", "title": null, "scale": {"domain": [957.3, 1401], "nice": false, "zero": false}},
            "y": {"field": "em", "type": "quantitative", "title": "EM [cm⁻⁵]", "scale": {"type": "log", "domain": [1.05e18, 1e25], "nice": false}},
            "detail": {"field": "seg", "type": "nominal"},
            "strokeDash": {"field": "series", "type": "nominal",
              "scale": {"domain": ["em5", "em7"], "range": [[9, 4], [1, 0]]},
              "legend": {"title": null, "orient": "none", "legendX": 976, "legendY": 231,
                "labelExpr": "datum.label == 'em5' ? 'Total EM >5 MK' : 'Total EM >7 MK'",
                "labelFontSize": 16, "labelColor": "black",
                "symbolType": "M-2.5,0H2.5", "symbolSize": 196, "symbolStrokeWidth": 2.7, "symbolStrokeColor": "black", "symbolFillColor": "transparent", "symbolOpacity": 1,
                "symbolOffset": 10, "labelOffset": 23, "rowPadding": 7, "padding": 6,
                "fillColor": "rgba(255,255,255,0.8)", "strokeColor": "#d0d0d0", "cornerRadius": 3}}
          }
        }
      ]
    },
    {
      "width": 1393,
      "height": 296,
      "layer": [
        {
          "data": {"name": "shade"},
          "mark": {"type": "rect", "strokeWidth": 0},
          "encoding": {
            "x": {"field": "start", "type": "quantitative", "title": null,
              "scale": {"domain": [957.3, 1401], "nice": false, "zero": false},
              "axis": {"values": [960, 1020, 1080, 1140, 1200, 1260, 1320, 1380], "tickSize": 5, "labelOverlap": false, "labelFlush": false,
                "labelExpr": "format(floor(datum.value / 60), '02d') + ':00:00'"}},
            "x2": {"field": "end"},
            "fill": {"field": "kind", "type": "nominal", "legend": null,
              "scale": {"domain": ["obs", "gap"], "range": ["#f9f9f9", "#e8e8e8"]}}
          }
        },
        {
          "data": {"name": "grid"},
          "mark": {"type": "rule", "stroke": "#555555", "strokeWidth": 0.8, "strokeDash": [1.5, 1.5]},
          "encoding": {
            "x": {"field": "t", "type": "quantitative", "title": null, "scale": {"domain": [957.3, 1401], "nice": false, "zero": false}}
          }
        },
        {
          "data": {"name": "grid"},
          "mark": {"type": "rule", "stroke": "black", "strokeWidth": 1},
          "encoding": {
            "x": {"field": "t", "type": "quantitative", "title": null, "scale": {"domain": [957.3, 1401], "nice": false, "zero": false}},
            "y": {"datum": 1.05e18, "type": "quantitative", "title": "EM [cm⁻⁵]", "scale": {"type": "log", "domain": [1.05e18, 1e25], "nice": false}},
            "y2": {"datum": 9.0e17}
          }
        },
        {
          "data": {"name": "bottom"},
          "mark": {"type": "area", "interpolate": "step-after", "fill": "red", "fillOpacity": 0.3, "stroke": "red", "strokeOpacity": 0.3, "strokeWidth": 1, "clip": true},
          "encoding": {
            "x": {"field": "t", "type": "quantitative", "title": null, "scale": {"domain": [957.3, 1401], "nice": false, "zero": false}},
            "y": {"field": "lo10", "type": "quantitative", "title": "EM [cm⁻⁵]",
              "scale": {"type": "log", "domain": [1.05e18, 1e25], "nice": false},
              "axis": {"values": [1e19, 1e21, 1e23, 1e25], "tickSize": 5, "labelFontSize": 17, "titleFontSize": 20, "titleFontStyle": "italic", "titleFontWeight": "normal", "titlePadding": 12,
                "labelExpr": "'10' + (round(log(datum.value) / LN10) == 19 ? '¹⁹' : round(log(datum.value) / LN10) == 21 ? '²¹' : round(log(datum.value) / LN10) == 23 ? '²³' : '²⁵')"}},
            "y2": {"field": "hi10"},
            "detail": {"field": "seg", "type": "nominal"}
          }
        },
        {
          "data": {"name": "bottom"},
          "mark": {"type": "line", "interpolate": "step-after", "color": "black", "strokeWidth": 2.7, "clip": true},
          "encoding": {
            "x": {"field": "t", "type": "quantitative", "title": null, "scale": {"domain": [957.3, 1401], "nice": false, "zero": false}},
            "y": {"field": "em10", "type": "quantitative", "title": "EM [cm⁻⁵]", "scale": {"type": "log", "domain": [1.05e18, 1e25], "nice": false}},
            "detail": {"field": "seg", "type": "nominal"}
          }
        },
        {
          "data": {"name": "ishikawa"},
          "mark": {"type": "rect", "fill": "#a52a2a", "fillOpacity": 0.5, "stroke": "#a52a2a", "strokeOpacity": 0.5, "strokeWidth": 1},
          "encoding": {
            "y": {"field": "lo", "type": "quantitative", "title": "EM [cm⁻⁵]", "scale": {"type": "log", "domain": [1.05e18, 1e25], "nice": false}},
            "y2": {"field": "hi"}
          }
        },
        {
          "data": {"name": "legend10"},
          "mark": {"type": "point", "filled": true, "clip": true, "size": 196, "strokeWidth": 0, "opacity": 1},
          "encoding": {
            "x": {"datum": 900, "type": "quantitative", "scale": {"domain": [957.3, 1401], "nice": false, "zero": false}},
            "y": {"datum": 1e20, "type": "quantitative", "scale": {"type": "log", "domain": [1.05e18, 1e25], "nice": false}},
            "color": {"field": "s", "type": "nominal",
              "scale": {"domain": ["Total EM >10 MK", "Ishikawa (2017) >10 MK 95%"], "range": ["black", "#d29595"]},
              "legend": {"title": null, "orient": "none", "legendX": 976, "legendY": 9, "labelFontSize": 16, "labelColor": "black", "labelLimit": 400,
                "symbolSize": 196, "symbolStrokeWidth": 0, "symbolOpacity": 1, "symbolOffset": 10, "labelOffset": 23, "rowPadding": 7, "padding": 6,
                "fillColor": "rgba(255,255,255,0.8)", "strokeColor": "#d0d0d0", "cornerRadius": 3}},
            "shape": {"field": "s", "type": "nominal",
              "scale": {"domain": ["Total EM >10 MK", "Ishikawa (2017) >10 MK 95%"], "range": ["M-2.5,-0.19H2.5V0.19H-2.5Z", "M-2.5,-0.93H2.5V0.93H-2.5Z"]},
              "legend": {"title": null, "orient": "none", "legendX": 976, "legendY": 9, "labelFontSize": 16, "labelColor": "black", "labelLimit": 400,
                "symbolSize": 196, "symbolStrokeWidth": 0, "symbolOpacity": 1, "symbolOffset": 10, "labelOffset": 23, "rowPadding": 7, "padding": 6,
                "fillColor": "rgba(255,255,255,0.8)", "strokeColor": "#d0d0d0", "cornerRadius": 3}}
          }
        }
      ]
    }
  ]
}
